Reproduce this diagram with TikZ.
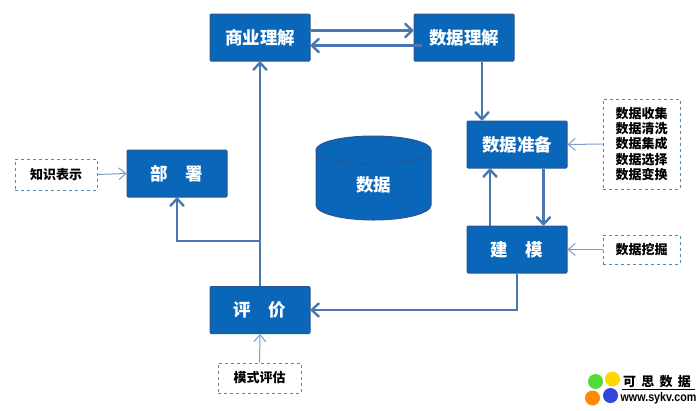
\documentclass[tikz,border=0pt]{standalone}
\usepackage{fontspec}
\setmainfont{Noto Sans CJK SC}
\setsansfont{Liberation Sans}
\usetikzlibrary{arrows.meta}
\definecolor{boxblue}{HTML}{0A66B8}
\definecolor{boxedge}{HTML}{2A5590}
\definecolor{flowblue}{HTML}{4A76B2}
\definecolor{thinblue}{HTML}{7C9CC6}
\definecolor{dashblue}{HTML}{4A8CAD}
\tikzset{
    stage/.style={rectangle,draw=boxedge,fill=boxblue,line width=1pt,rounded corners=1pt,
        minimum width=100pt,minimum height=47pt,inner sep=0pt,text=white,font=\fontsize{17.5}{20}\selectfont\bfseries},
    task/.style={rectangle,draw=dashblue,dashed,line width=0.9pt,inner sep=0pt,align=center,
        text=black,font=\fontsize{13}{15.3}\selectfont\bfseries},
    flow/.style={-{Straight Barb[length=7pt,width=13pt,round]},draw=flowblue,line width=2.4pt},
    hint/.style={-{Straight Barb[length=7pt,width=12pt]},draw=thinblue,line width=1pt},
    petal/.style={circle,minimum size=15pt,inner sep=0pt}
}
\begin{document}
\begin{tikzpicture}[x=1pt,y=-1pt]
    \useasboundingbox (0,0) rectangle (700,410);
    \begin{scope}[every node/.style={stage}]
        \node (biz) at (260,37.5) {商业理解};
        \node (under) at (464,37.5) {数据理解};
        \node (prep) at (517,144.5) {数据准备};
        \node (model) at (517,249.5) {建\hspace{1em}模};
        \node (eval) at (260,310) {评\hspace{1em}价};
        \node (deploy) at (177,173.5) {部\hspace{1em}署};
    \end{scope}
    % data store
    \draw [draw=boxedge,fill=boxblue,line width=1pt] (316,150) -- (316,205) arc [start angle=180,end angle=360,x radius=57.5,y radius=-15]
        -- (431,150) arc [start angle=0,end angle=180,x radius=57.5,y radius=-14] -- cycle;
    \draw [draw=boxedge,line width=1pt] (316,150) arc [start angle=180,end angle=360,x radius=57.5,y radius=-14];
    \node (store) [text=white,font=\fontsize{17.5}{20}\selectfont\bfseries] at (373.5,185) {数据};
    \begin{scope}[every node/.style={task}]
        \node (know) [minimum width=82pt,minimum height=31pt] at (56,174.5) {知识表示};
        \node (steps) [minimum width=77pt,minimum height=90pt] at (641.5,144) {数据收集\\数据清洗\\数据集成\\数据选择\\数据变换};
        \node (mine) [minimum width=77pt,minimum height=29pt] at (641.5,249.5) {数据挖掘};
        \node (check) [minimum width=83pt,minimum height=30pt] at (259.5,378) {模式评估};
    \end{scope}
    \coordinate (fork) at (260,241);
    \coordinate (turn) at (517,310);
    \begin{scope}[every edge/.style={flow}]
        \draw ([yshift=7pt]biz.east) edge ([yshift=7pt]under.west);
        \draw ([xshift=8pt,yshift=-8pt]under.west) edge ([yshift=-8pt]biz.east);
        \draw ([xshift=18pt]under.south) edge ([xshift=-35pt]prep.north);
        \draw ([xshift=26.5pt]prep.south) edge ([xshift=26.5pt]model.north);
        \draw ([xshift=-27pt]model.north) edge ([xshift=-27pt]prep.south);
        \draw (eval.north) edge (biz.south);
    \end{scope}
    \draw [flow] (model.south) -- (turn) -- (eval.east);
    \draw [flow] (fork) -| (deploy.south);
    \begin{scope}[every edge/.style={hint}]
        \draw (know.east) edge (deploy.west);
        \draw (steps.west) edge (prep.east);
        \draw (mine.west) edge (model.east);
        \draw (check.north) edge (eval.south);
    \end{scope}
    % logo
    \begin{scope}[every node/.style={petal}]
        \node (green) [fill={rgb,255:red,85;green,216;blue,58}] at (595.5,381.5) {};
        \node (sun) [fill={rgb,255:red,255;green,216;blue,0}] at (612.5,379) {};
        \node (fire) [fill={rgb,255:red,255;green,138;blue,0}] at (592.5,398) {};
        \node (sea) [fill={rgb,255:red,51;green,68;blue,224}] at (610.5,395.5) {};
    \end{scope}
    \node (brand) [inner sep=0pt,font=\fontsize{13}{13}\selectfont\bfseries] at (657,382) {可\hspace{0.4em}思\hspace{0.4em}数\hspace{0.4em}据};
    \node (site) [inner sep=0pt,xscale=0.86,font=\sffamily\fontsize{12.5}{13}\selectfont\bfseries] at (658.5,398) {www.sykv.com};
    \coordinate (ruleA) at (622,389.5);
    \coordinate (ruleB) at (695,389.5);
    \draw [line width=1pt] (ruleA) -- (ruleB);
\end{tikzpicture}
\end{document}
